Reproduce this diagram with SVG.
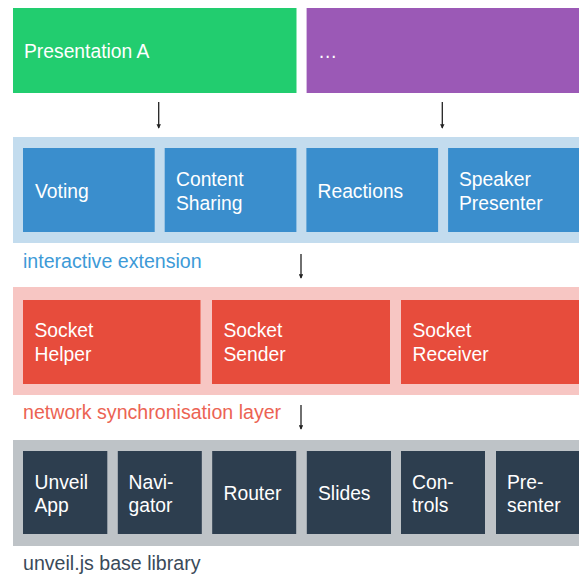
<svg xmlns="http://www.w3.org/2000/svg" width="579" height="576" viewBox="0 0 579 576">
<defs>
<style>
text{font-family:"Liberation Sans",Arial,Helvetica,sans-serif;font-size:19.3px}
.lbl{font-size:19.6px}
.w{fill:#ffffff}
.green{fill:#22cd6f}
.purple{fill:#9b59b6}
.bband{fill:#c3dcee}
.blue{fill:#3a8ecd}
.rband{fill:#f7c6c3}
.red{fill:#e74c3c}
.gband{fill:#bec3c7}
.dark{fill:#2d3e4f}
.conn{stroke:#222;stroke-width:1.3;fill:none;marker-end:url(#ah)}
</style>
<marker id="ah" viewBox="0 0 6 6" refX="5" refY="3" markerWidth="3.4" markerHeight="3.4" orient="auto" markerUnits="strokeWidth">
<path d="M0,0 L6,3 L0,6 Z" fill="#222"/>
</marker>
</defs>
<rect width="579" height="576" fill="#ffffff"/>

<g id="presentation-a"><rect class="green" x="13" y="8" width="283.5" height="85"/><text class="w" x="24" y="58">Presentation A</text></g>
<g id="more"><rect class="purple" x="306.6" y="8" width="275" height="85"/><text class="w" x="318" y="58">…</text></g>

<g id="interactive-extension">
<rect class="bband" x="13" y="137" width="570" height="106"/>
<text class="lbl" x="23" y="268" fill="#3d9ad7">interactive extension</text>
</g>
<g id="voting"><rect class="blue" x="23" y="148" width="131.7" height="84"/><text class="w" x="35" y="197.5">Voting</text></g>
<g id="content-sharing"><rect class="blue" x="164.7" y="148" width="131.7" height="84"/><text class="w" x="176" y="185.5">Content</text><text class="w" x="176" y="209.5">Sharing</text></g>
<g id="reactions"><rect class="blue" x="306.4" y="148" width="131.7" height="84"/><text class="w" x="317.5" y="197.5">Reactions</text></g>
<g id="speaker-presenter"><rect class="blue" x="448.1" y="148" width="135" height="84"/><text class="w" x="459" y="185.5">Speaker</text><text class="w" x="459" y="209.5">Presenter</text></g>

<g id="network-layer">
<rect class="rband" x="13" y="287" width="570" height="108"/>
<text class="lbl" x="23" y="418.5" fill="#ec6353">network synchronisation layer</text>
</g>
<g id="socket-helper"><rect class="red" x="23" y="300" width="177.5" height="84"/><text class="w" x="34.5" y="337">Socket</text><text class="w" x="34.5" y="361">Helper</text></g>
<g id="socket-sender"><rect class="red" x="212" y="300" width="178" height="84"/><text class="w" x="223.5" y="337">Socket</text><text class="w" x="223.5" y="361">Sender</text></g>
<g id="socket-receiver"><rect class="red" x="401" y="300" width="182" height="84"/><text class="w" x="412.5" y="337">Socket</text><text class="w" x="412.5" y="361">Receiver</text></g>

<g id="base-library">
<rect class="gband" x="13" y="440" width="570" height="106"/>
<text class="lbl" x="23" y="569.5" fill="#3a4a5a">unveil.js base library</text>
</g>
<g id="unveil-app"><rect class="dark" x="23" y="451" width="84.3" height="83"/><text class="w" x="34.5" y="488.5">Unveil</text><text class="w" x="34.5" y="512">App</text></g>
<g id="navigator"><rect class="dark" x="117.8" y="451" width="84" height="83"/><text class="w" x="128.5" y="488.5">Navi-</text><text class="w" x="128.5" y="512">gator</text></g>
<g id="router"><rect class="dark" x="212.2" y="451" width="84" height="83"/><text class="w" x="223.5" y="500">Router</text></g>
<g id="slides"><rect class="dark" x="306.8" y="451" width="84.2" height="83"/><text class="w" x="318" y="500">Slides</text></g>
<g id="controls"><rect class="dark" x="401" y="451" width="84" height="83"/><text class="w" x="412" y="488.5">Con-</text><text class="w" x="412" y="512">trols</text></g>
<g id="presenter"><rect class="dark" x="496" y="451" width="87" height="83"/><text class="w" x="507" y="488.5">Pre-</text><text class="w" x="507" y="512">senter</text></g>

<g id="connectors">
<line class="conn" x1="158.7" y1="102" x2="158.7" y2="128"/>
<line class="conn" x1="442.3" y1="102" x2="442.3" y2="128"/>
<line class="conn" x1="301" y1="254" x2="301" y2="278"/>
<line class="conn" x1="301" y1="405" x2="301" y2="429"/>
</g>
</svg>
